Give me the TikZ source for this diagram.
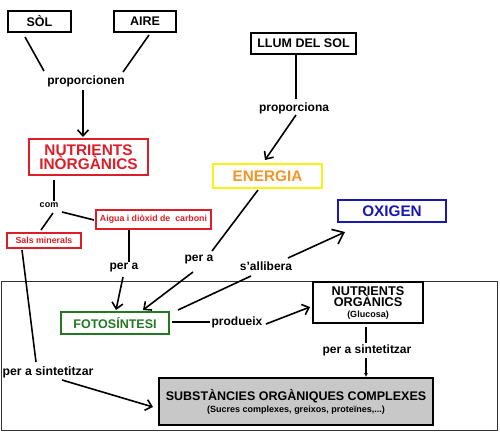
\documentclass[tikz,border=0pt]{standalone}
\usepackage{fontspec}
\setmainfont{Liberation Sans}
\usetikzlibrary{arrows.meta}
\definecolor{cred}{RGB}{220,30,40}
\definecolor{cyel}{RGB}{250,240,20}
\definecolor{corg}{RGB}{240,150,40}
\definecolor{cblue}{RGB}{25,25,175}
\definecolor{cgreen}{RGB}{35,120,35}
\definecolor{cgray}{RGB}{200,200,200}
\tikzset{
  box/.style={draw, line width=2pt, inner sep=0pt, font=\bfseries},
  lbl/.style={inner sep=1pt, font=\bfseries\fontsize{12}{13}\selectfont},
  con/.style={line width=1.6pt},
  arr/.style={line width=1.6pt, -{Straight Barb[length=6pt,width=11pt,line width=1.6pt]}},
  bigarr/.style={line width=1.6pt, -{Straight Barb[length=10pt,width=16pt,line width=1.6pt]}},
}
\begin{document}
\begin{tikzpicture}[x=1pt,y=-1pt]
\useasboundingbox (0,0) rectangle (500,437);
\fill[white] (0,0) rectangle (500,437);
% big frame
\draw[line width=1pt, black!80] (1,281) rectangle (497,430);
% boxes
\node[box, minimum width=63pt, minimum height=21pt, font=\bfseries\fontsize{12.5}{13}\selectfont] (sol) at (39.5,21.5) {SÒL};
\node[box, minimum width=62pt, minimum height=21pt, font=\bfseries\fontsize{12.5}{13}\selectfont] (aire) at (145,21.5) {AIRE};
\node[lbl] (prop) at (86,81) {proporcionen};
\node[box, draw=cred, text=cred, minimum width=119pt, minimum height=36pt, align=center, font=\bfseries\fontsize{15.4}{14}\selectfont] (ninorg) at (88.5,157) {NUTRIENTS\\INÒRGÀNICS};
\node[inner sep=1pt, font=\bfseries\fontsize{9}{10}\selectfont] (com) at (49,205) {com};
\node[box, line width=1.5pt, draw=cred, text=cred, minimum width=115pt, minimum height=19pt, font=\bfseries\fontsize{8.8}{9}\selectfont] (aigua) at (153.5,219.5) {Aigua i diòxid de\ \ carboni};
\node[box, line width=1.5pt, draw=cred, text=cred, minimum width=74pt, minimum height=15pt, font=\bfseries\fontsize{8.8}{9}\selectfont] (sals) at (44,240.5) {Sals minerals};
\node[lbl] (pera1) at (124,268) {per a};
\node[lbl] (pera2) at (199,260) {per a};
\node[lbl] (salli) at (266,266) {s'allibera};
\node[lbl, font=\bfseries\fontsize{12.3}{13}\selectfont] (pers1) at (48,372) {per a sintetitzar};
\node[box, minimum width=105pt, minimum height=21pt, font=\bfseries\fontsize{12.5}{13}\selectfont] (llum) at (303.5,43.5) {LLUM DEL SOL};
\node[lbl] (propa) at (294,108) {proporciona};
\node[box, draw=cyel, text=corg, minimum width=109pt, minimum height=24pt, font=\bfseries\fontsize{15.3}{16}\selectfont] (energia) at (267.5,176) {ENERGIA};
\node[box, draw=cblue, text=cblue, minimum width=108pt, minimum height=22pt, font=\bfseries\fontsize{15.3}{16}\selectfont] (oxigen) at (392,211) {OXIGEN};
\node[box, draw=cgreen, text=cgreen, minimum width=108pt, minimum height=22pt, font=\bfseries\fontsize{12.5}{13}\selectfont] (foto) at (115,323) {FOTOSÍNTESI};
\node[lbl] (prod) at (237,322) {produeix};
\node[box, minimum width=110pt, minimum height=41pt, align=center, font=\bfseries\fontsize{12.7}{11.5}\selectfont] (norg) at (368,302.5) {NUTRIENTS\\ORGÀNICS\\[-1pt]{\fontsize{9}{9}\selectfont(Glucosa)}};
\node[lbl] (pers2) at (367,350) {per a sintetitzar};
\node[box, fill=cgray, minimum width=274pt, minimum height=47pt, align=center, font=\bfseries\fontsize{12.5}{13}\selectfont] (subs) at (296,401.5) {SUBSTÀNCIES ORGÀNIQUES COMPLEXES\\[-1pt]{\fontsize{9}{9}\selectfont(Sucres complexes, greixos, proteïnes,...)}};
% connectors
\coordinate (c1) at (25,37); \coordinate (c2) at (44,71);
\draw[con] (c1) -- (c2);
\coordinate (c3) at (149,35); \coordinate (c4) at (123,72);
\draw[con] (c3) -- (c4);
\draw[arr] (prop.south -| 83,0) ++(0,2) -- (83,137);
\draw[con] (54,180) -- (com.north -| 54,0);
\draw[con] (53,213) -- (41,230);
\draw[con] (62,212) -- (94,220);
\draw[con] (129,230) -- (pera1.north -| 129,0);
\draw[arr] (123,277) -- (116,310);
\draw[con] (22,250) -- (36,362);
\draw[arr] (62,380) -- (153,407);
\draw[con] (296,55) -- (296,99);
\draw[arr] (296,115) -- (265,160);
\draw[con] (258,190) -- (212,251);
\draw[arr] (193,272) -- (143,310);
\draw[con] (178,310) -- (251,276);
\draw[bigarr] (288,258) -- (345,232);
\draw[con] (172,322) -- (210,322);
\draw[arr] (266,324) -- (310,307);
\draw[con] (366,327) -- (366,343);
\draw[line width=1.3pt, -{Latex[length=4pt,width=4pt]}] (366,358) -- (366,377);
\end{tikzpicture}
\end{document}
